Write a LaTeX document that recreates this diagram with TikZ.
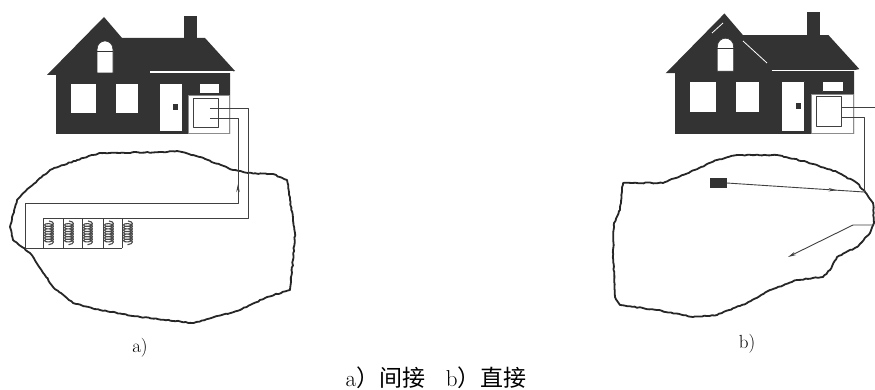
\documentclass[tikz,border=0pt]{standalone}
\usepackage{fontspec}
\newfontfamily\cjk{Noto Sans CJK SC}
\usetikzlibrary{arrows.meta,decorations.pathmorphing,decorations.markings}

% house with the heat pump unit, origin at the bottom left corner of the wall
\tikzset{
  house/.pic={
    \fill[black!80] (-9,-59) -- (48,-117) -- (66,-96) -- (149,-96) -- (179,-63)
      -- (174,-62) -- (174,0) -- (0,0) -- (0,-59) -- cycle;
    \fill[black!80] (128,-118) rectangle (141,-95);
    \draw[white,line width=1.2pt] (94,-62) -- (177,-62);
    % windows and door
    \draw[pane] (41,-61) -- (41,-84) .. controls (41,-96) and (57,-96) .. (57,-84) -- (57,-61) -- cycle;
    \draw[black!80,line width=0.6pt] (41,-83) -- (57,-83);
    \draw[pane] (14,-51) rectangle (40,-21);
    \draw[pane] (59,-51) rectangle (82,-21);
    \draw[pane] (103,-51) rectangle (126,-3);
    \fill[black!80] (117,-30) rectangle (122,-24);
    \draw[pane] (143,-51) rectangle (163,-41);
    % unit
    \draw[fill=white,draw=black!45,line width=0.5pt] (132,-39) rectangle (173,-1);
    \draw[black!75,line width=0.9pt] (137,-36) rectangle (162,-7);
    \coordinate (-s) at (162,-26);
    \coordinate (-r) at (162,-16);
  }
}

\begin{document}
\begin{tikzpicture}[x=1pt,y=-1pt,line join=round,
  pane/.style={fill=white,draw=black!80,line width=0.6pt},
  pipe/.style={draw=black!75,line width=0.9pt},
  ground/.style={draw=black!85,line width=1.8pt,decorate,
    decoration={random steps,segment length=2.5pt,amplitude=0.5pt}},
  loopcoil/.style={draw=black!70,line width=1.1pt,decorate,
    decoration={coil,aspect=0.45,segment length=2.6pt,amplitude=4.5pt}},
  probe/.style={fill=black!80,minimum width=17pt,minimum height=10pt,inner sep=0pt},
  tip/.style={-{Stealth[length=8pt,width=3.5pt]}},
  midtip/.style={postaction={decorate,decoration={markings,
    mark=at position #1 with {\arrow{Stealth[length=8pt,width=3.5pt]}}}}},
  label/.style={font=\fontsize{19}{22}\selectfont}]
\pgfmathsetseed{7}
\fill[white] (0,0) rectangle (875,390);
\useasboundingbox (0,0) rectangle (875,390);

% a) ground loop
\pic (ha) at (56,134) {house};
\draw[ground] (10,227) -- (17,200) -- (30,187) -- (50,170) -- (77,160) -- (100,153)
  -- (167,152) -- (177,151) -- (200,157) -- (233,170) -- (248,173) -- (273,174)
  -- (287,180) -- (290,200) -- (295,233) -- (293,260) -- (290,290) -- (267,297)
  -- (240,310) -- (193,323) -- (140,317) -- (100,310) -- (73,303) -- (53,287)
  -- (30,253) -- (13,240) -- cycle;
\draw[pipe] ([xshift=-8pt]ha-s) -| (248,218) -- (43,218);
\draw[pipe] ([xshift=-8pt]ha-r) -| (238,203) -- (25,203) -- (25,248) -- (122,248);
\draw[pipe,tip] (238,200) -- (238,184);
\foreach \x in {43,63,82,103,122}
  \draw[pipe] (\x,218) -- (\x,248);
\foreach \x in {49,69,88,109,128}
  \draw[loopcoil] (\x,221) -- (\x,245);
\node[label] (la) at (140,348) {a)};

% b) open loop with well
\pic[scale=1.03] (hb) at (675,134) {house};
\draw[white,line width=0.8pt] (712,33) -- (723,23);
\draw[white,line width=0.8pt] (743,41) -- (767,63);
\draw[ground] (623,183) -- (663,183) -- (690,172) -- (717,160) -- (737,155)
  -- (777,155) -- (807,162) -- (837,172) -- (857,183) -- (865,192) -- (873,203)
  -- (874,223) -- (870,233) -- (857,247) -- (837,257) -- (830,270) -- (823,277)
  -- (797,280) -- (770,290) -- (747,303) -- (717,315) -- (693,317) -- (657,310)
  -- (620,305) -- (615,297) -- (613,250) -- (614,223) -- (620,210) -- (622,190) -- cycle;
\coordinate (edge) at (875,0);
\coordinate (well) at (864,192);
\coordinate (outlet) at (874,225);
\draw[pipe] (hb-s) -- (hb-s -| edge);
\draw[pipe] (hb-r) -| (well);
\node[probe] (hp) at (718,183) {};
\draw[pipe,midtip=0.8] (hp.east) -- (well);
\draw[pipe,tip] (outlet) -- (853,225) -- (788,257);
\node[label] (lb) at (747,344) {b)};

\node[font=\fontsize{23}{26}\selectfont] (cap) at (436,378)
  {a{\cjk ）间接}\hspace{0.9em}b{\cjk ）直接}};
\end{tikzpicture}
\end{document}
